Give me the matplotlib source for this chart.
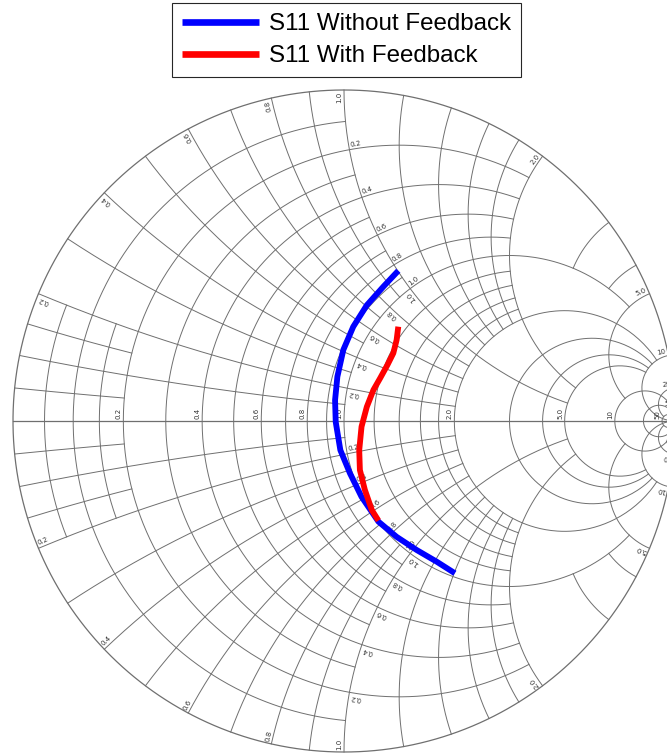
import numpy as np
import matplotlib
matplotlib.use("Agg")
import matplotlib.pyplot as plt

# ---------------------------------------------------------------------------
# Reflection coefficient traces (real / imaginary parts of S11)
# ---------------------------------------------------------------------------
s11_nofb_re = [0.164, 0.119, 0.069, 0.028, -0.002, -0.020, -0.027, -0.025,
               -0.011, 0.018, 0.053, 0.104, 0.159, 0.220, 0.280, 0.335]
s11_nofb_im = [0.454, 0.406, 0.350, 0.285, 0.215, 0.134, 0.063, -0.003,
               -0.088, -0.158, -0.229, -0.304, -0.350, -0.390, -0.425, -0.460]

s11_fb_re = [0.164, 0.159, 0.149, 0.131, 0.109, 0.089, 0.069, 0.053,
             0.046, 0.048, 0.063, 0.084, 0.104]
s11_fb_im = [0.285, 0.245, 0.205, 0.169, 0.129, 0.094, 0.043, -0.017,
             -0.088, -0.148, -0.208, -0.269, -0.301]

legend_labels = ["S11 Without Feedback", "S11 With Feedback"]

# ---------------------------------------------------------------------------
# Smith chart grid: each circle is drawn up to the given value of the
# orthogonal family (resistance circles limited in |x|, reactance arcs in r)
# ---------------------------------------------------------------------------
inf = np.inf
res_values = [0.05, 0.1, 0.15, 0.2, 0.3, 0.4, 0.5, 0.6, 0.7, 0.8, 0.9, 1.0,
              1.2, 1.4, 1.6, 1.8, 2.0, 3.0, 4.0, 5.0, 10, 20, 50]
res_limits = [0.2, 1, 0.2, 2, 1, 2, 1, 2, 1, 2, 1, 5,
              2, 2, 2, 2, 10, 10, 10, 10, inf, 50, inf]

react_values = [0.05, 0.1, 0.15, 0.2, 0.3, 0.4, 0.5, 0.6, 0.7, 0.8, 0.9, 1.0,
                1.2, 1.4, 1.6, 1.8, 2.0, 3.0, 4.0, 5.0, 10, 20, 50]
react_limits = [0.2, 1, 0.2, 2, 1, 2, 1, 2, 1, 2, 1, 5,
                2, 2, 2, 2, 5, 1, 1, 10, inf, 50, inf]

# labelled values
axis_res_labels = [0.2, 0.4, 0.6, 0.8, 1.0, 2.0, 5.0, 10, 50]
arc_res_labels = [0.2, 0.4, 0.6, 0.8, 1.0]
outer_react_labels = [0.2, 0.4, 0.6, 0.8, 1.0, 2.0, 5.0, 10, 20, 50]
circle_react_labels = [0.2, 0.4, 0.6, 0.8, 1.0]

GRID_COLOR = "#6f6f6f"
GRID_LW = 0.7
LABEL_COLOR = "#333333"
LABEL_SIZE = 5.0


def gamma(z):
    return (z - 1) / (z + 1)


def fmt(v):
    return f"{v:.1f}" if v < 10 else f"{v:g}"


W, H = 667, 755
fig = plt.figure(figsize=(W / 100, H / 100), dpi=100)
ax = fig.add_axes([0, 0, 1, 1])
cx, cy, R = 344.0, 421.0, 331.0
ax.set_xlim(-cx / R, (W - cx) / R)
ax.set_ylim((cy - H) / R, cy / R)
ax.axis("off")

# outer circle and real axis
th = np.linspace(0, 2 * np.pi, 800)
ax.plot(np.cos(th), np.sin(th), color=GRID_COLOR, lw=0.9, zorder=1)
ax.plot([-1, 1], [0, 0], color=GRID_COLOR, lw=0.9, zorder=1)

# constant resistance circles
for r, lim in zip(res_values, res_limits):
    t = np.linspace(-np.arctan(lim), np.arctan(lim), 500)
    g = gamma(r + 1j * np.tan(t))
    ax.plot(g.real, g.imag, color=GRID_COLOR, lw=GRID_LW, zorder=1)

# constant reactance arcs
for x, lim in zip(react_values, react_limits):
    s = np.linspace(0, np.arctan(lim), 400)
    for sgn in (1, -1):
        g = gamma(np.tan(s) + 1j * sgn * x)
        ax.plot(g.real, g.imag, color=GRID_COLOR, lw=GRID_LW, zorder=1)


def put_label(text, p, ang, ha, mirror=True):
    pad = 1.5 / R
    d = np.exp(1j * np.deg2rad(ang))
    u = d * 1j
    sgn_d = 1 if ha == "left" else -1
    q = p + pad * sgn_d * d + pad * u
    ax.text(q.real, q.imag, text, rotation=ang, rotation_mode="anchor",
            ha=ha, va="bottom", fontsize=LABEL_SIZE, color=LABEL_COLOR,
            zorder=2)
    if mirror:
        ha2 = "right" if ha == "left" else "left"
        ang2 = 180 - ang
        d2 = np.exp(1j * np.deg2rad(ang2))
        u2 = d2 * 1j
        sgn2 = 1 if ha2 == "left" else -1
        p2 = np.conj(p)
        q2 = p2 + pad * sgn2 * d2 + pad * u2
        ax.text(q2.real, q2.imag, text, rotation=ang2, rotation_mode="anchor",
                ha=ha2, va="bottom", fontsize=LABEL_SIZE, color=LABEL_COLOR,
                zorder=2)


def res_label(r, x0):
    z = r + 1j * x0
    p = gamma(z)
    ang = np.degrees(np.angle(2j / (z + 1) ** 2))
    put_label(fmt(r), p, ang, "left", mirror=(x0 != 0))


def react_label(x, r0):
    z = r0 + 1j * x
    p = gamma(z)
    ang = np.degrees(np.angle(-2 / (z + 1) ** 2))
    put_label(fmt(x), p, ang, "right", mirror=True)


for r in axis_res_labels:
    res_label(r, 0.0)
for r in arc_res_labels:
    res_label(r, 1.0)
for x in outer_react_labels:
    react_label(x, 0.0)
for x in circle_react_labels:
    react_label(x, 1.0)

# S11 traces
l1, = ax.plot(s11_nofb_re, s11_nofb_im, color="#0000ff", lw=4.2,
              solid_capstyle="butt", solid_joinstyle="round", zorder=3)
l2, = ax.plot(s11_fb_re, s11_fb_im, color="#ff0000", lw=4.2,
              solid_capstyle="butt", solid_joinstyle="round", zorder=4)

leg = fig.legend([l1, l2], legend_labels, loc="upper left",
                 bbox_to_anchor=(172 / W, 1 - 3 / H),
                 bbox_transform=fig.transFigure, frameon=True,
                 fancybox=False, edgecolor="#262626", framealpha=1,
                 prop={"family": "Liberation Sans", "size": 17.4},
                 handlelength=3.2, handletextpad=0.38, borderpad=0.42,
                 labelspacing=0.42, borderaxespad=0)
leg.get_frame().set_linewidth(0.8)
for h in leg.get_lines():
    h.set_linewidth(4.8)

fig.savefig("out.png", dpi=100)
